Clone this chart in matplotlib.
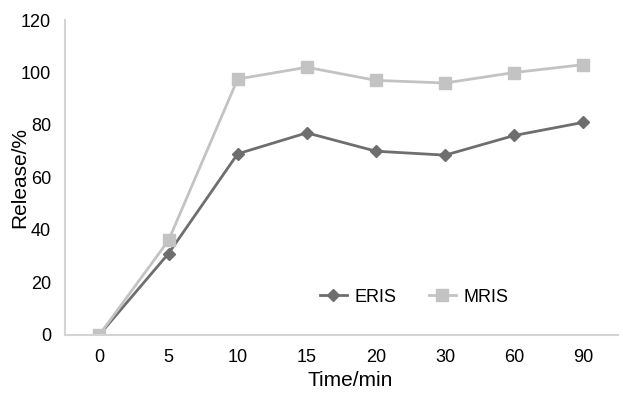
import numpy as np
import matplotlib.pyplot as plt

plt.rcParams['font.family'] = ['Liberation Sans', 'DejaVu Sans']

# === Data ===
times = ['0', '5', '10', '15', '20', '30', '60', '90']
eris = [0, 31, 69, 77, 70, 68.5, 76, 81]
mris = [0, 36, 97.5, 102, 97, 96, 100, 103]

# === Plot ===
fig = plt.figure(figsize=(6.23, 3.93), dpi=100)
ax = fig.add_axes([0.104, 0.148, 0.888, 0.801])

x = np.arange(len(times))
ax.plot(x, eris, color='#6e6e6e', lw=2, marker='D', ms=6, label='ERIS')
ax.plot(x, mris, color='#c3c3c3', lw=2, marker='s', ms=8, label='MRIS')

ax.set_xlim(-0.5, len(times) - 0.5)
ax.set_ylim(0, 120)
ax.set_xticks(x)
ax.set_xticklabels(times)
ax.set_yticks(np.arange(0, 121, 20))
ax.tick_params(length=0, labelsize=13, pad=10)

for s in ['top', 'right']:
    ax.spines[s].set_visible(False)
for s in ['left', 'bottom']:
    ax.spines[s].set_color('#d4d4d4')
    ax.spines[s].set_linewidth(1.5)

ax.set_xlabel('Time/min', fontsize=15)
ax.set_ylabel('Release/%', fontsize=15)
ax.xaxis.set_label_coords(350 / 623, 1 - 381 / 393, transform=fig.transFigure)
ax.yaxis.set_label_coords(20 / 623, 1 - 177 / 393, transform=fig.transFigure)
ax.xaxis.label.set_va('center')
ax.yaxis.label.set_va('center')

ax.legend(loc='center', bbox_to_anchor=(414 / 623, 1 - 297 / 393),
          bbox_transform=fig.transFigure, ncol=2, frameon=False,
          fontsize=13, handlelength=1.5, columnspacing=1.8, handletextpad=0.4)

fig.savefig('out.png', dpi=100)
